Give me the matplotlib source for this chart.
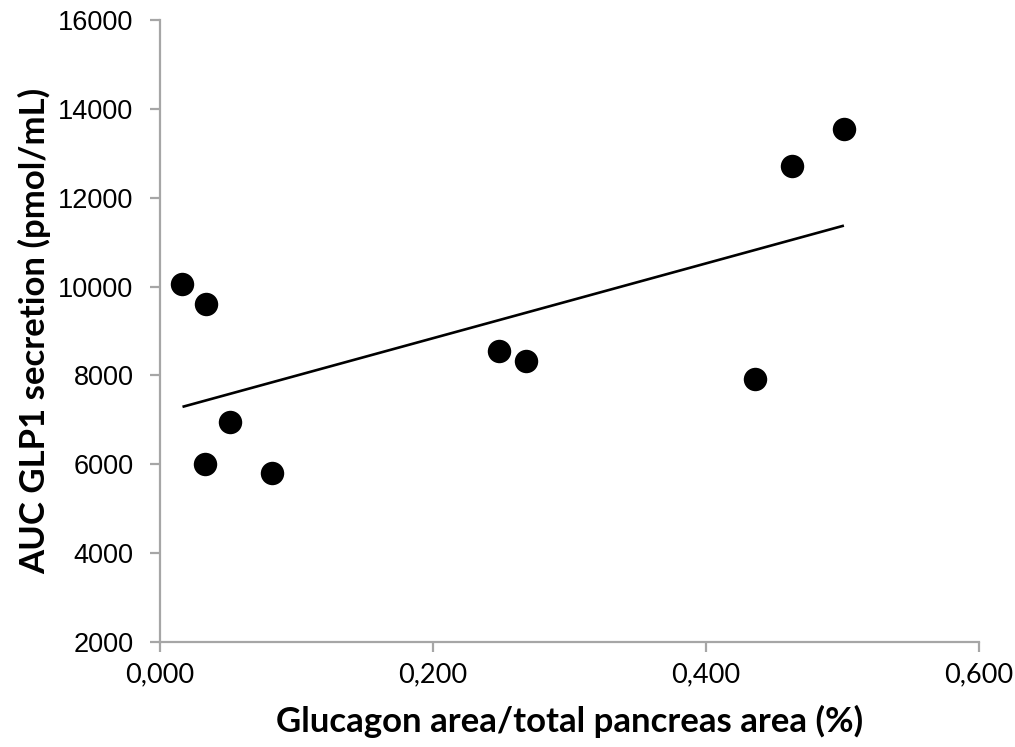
import numpy as np
import matplotlib
matplotlib.use("Agg")
import matplotlib.pyplot as plt
from matplotlib.ticker import FuncFormatter

# Glucagon area fraction vs. AUC of GLP1 secretion
glucagon_area = [0.0165, 0.0337, 0.0330, 0.0513, 0.0820, 0.2484, 0.2680, 0.4360, 0.4628, 0.5010]
glp1_auc = [10050, 9610, 6010, 6960, 5810, 8560, 8320, 7925, 12710, 13540]

x_ticks = [0.0, 0.2, 0.4, 0.6]
y_ticks = [2000, 4000, 6000, 8000, 10000, 12000, 14000, 16000]

x = np.array(glucagon_area)
y = np.array(glp1_auc)

fig = plt.figure(figsize=(10.15, 7.47), dpi=100)
ax = fig.add_axes([0.1576, 0.1406, 0.807, 0.8326])

ax.scatter(x, y, s=285, color="black", zorder=3, linewidths=0)

# Linear trend line over the data range
slope, intercept = np.polyfit(x, y, 1)
xl = np.array([x.min(), x.max()])
ax.plot(xl, slope * xl + intercept, color="black", lw=1.9, solid_capstyle="butt", zorder=2)

ax.set_xlim(0, 0.6)
ax.set_ylim(2000, 16000)
ax.set_xticks(x_ticks)
ax.set_yticks(y_ticks)
ax.xaxis.set_major_formatter(FuncFormatter(lambda v, p: f"{v:.3f}".replace(".", ",")))

for side in ("top", "right"):
    ax.spines[side].set_visible(False)
for side in ("left", "bottom"):
    ax.spines[side].set_color("#a6a6a6")
    ax.spines[side].set_linewidth(1.6)

ax.tick_params(axis="both", direction="out", length=7, width=1.6, color="#a6a6a6")
ax.tick_params(axis="x", pad=8)
ax.tick_params(axis="y", pad=12)

for lab in ax.get_yticklabels():
    lab.set_fontfamily("Liberation Sans")
    lab.set_fontsize(19.5)
for lab in ax.get_xticklabels():
    lab.set_fontfamily("Lato")
    lab.set_fontsize(19.5)

ax.set_xlabel("Glucagon area/total pancreas area (%)", fontfamily="Lato",
              fontweight="bold", fontsize=25, labelpad=12)
ax.set_ylabel("AUC GLP1 secretion (pmol/mL)", fontfamily="Lato",
              fontweight="bold", fontsize=25, labelpad=5)

fig.savefig("out.png", dpi=100)
